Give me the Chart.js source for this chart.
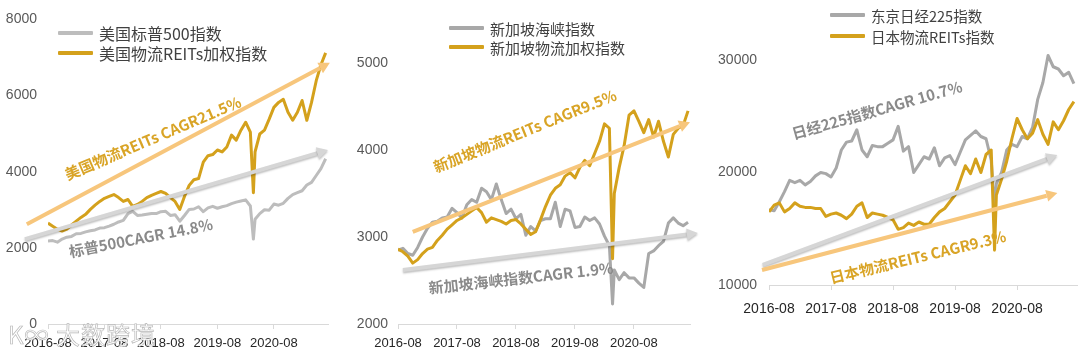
<!DOCTYPE html>
<html>
<head>
<meta charset="utf-8">
<script src="https://cdn.jsdelivr.net/npm/chart.js@4.4.1/dist/chart.umd.min.js"></script>
<style>
    body { margin: 0; background: #fff; width: 1080px; height: 355px; position: relative; overflow: hidden; font-family: 'Noto Sans CJK SC', sans-serif; }
    .panel { position: absolute; top: 0; height: 355px; }
    .legend-row { position: absolute; white-space: nowrap; display: flex; align-items: center; height: 20px; color: #404040; }
    .legend-row i { display: inline-block; width: 35px; height: 4px; margin-right: 6px; border-radius: 1px; }
    .watermark { position: absolute; left: 8px; top: 316px; font-size: 24px; color: #fff; -webkit-text-stroke: 0.7px #b8b8b8; letter-spacing: 1px; z-index: 2; }
</style>
</head>
<body>
<div class="watermark">K∞ 大数跨境</div>
<script>
// monthly points, plus the March 2020 low
const dates = [
    '2016-08', '2016-09', '2016-10', '2016-11', '2016-12',
    '2017-01', '2017-02', '2017-03', '2017-04', '2017-05', '2017-06', '2017-07', '2017-08', '2017-09', '2017-10', '2017-11', '2017-12',
    '2018-01', '2018-02', '2018-03', '2018-04', '2018-05', '2018-06', '2018-07', '2018-08', '2018-09', '2018-10', '2018-11', '2018-12',
    '2019-01', '2019-02', '2019-03', '2019-04', '2019-05', '2019-06', '2019-07', '2019-08', '2019-09', '2019-10', '2019-11', '2019-12',
    '2020-01', '2020-02', '2020-03', '2020-03-21', '2020-04', '2020-05', '2020-06', '2020-07', '2020-08', '2020-09', '2020-10', '2020-11', '2020-12',
    '2021-01', '2021-02', '2021-03', '2021-04', '2021-05', '2021-06', '2021-07'
];
const xTickLabels = ['2016-08', '2017-08', '2018-08', '2019-08', '2020-08'];

const usSp500 = [
    2180, 2190, 2150, 2230, 2280,
    2300, 2370, 2380, 2420, 2450, 2470, 2520, 2530, 2570, 2620, 2680, 2720,
    2900, 2960, 2850, 2860, 2880, 2900, 2900, 2950, 2960, 2850, 2870, 2700,
    2850, 3010, 3020, 3080, 2950, 3050, 3090, 3040, 3080, 3110, 3160, 3200,
    3230, 3260, 3100, 2230, 2750, 2900, 3000, 2990, 3150, 3120, 3170, 3300, 3400,
    3450, 3500, 3650, 3720, 3900, 4080, 4340
];
const usLogistics = [
    2650, 2570, 2490, 2440, 2490,
    2600, 2700, 2800, 2880, 3010, 3120, 3220, 3300, 3350, 3400, 3320, 3220,
    3270, 3090, 3140, 3220, 3320, 3380, 3430, 3480, 3430, 3320, 3220, 3010,
    3350, 3640, 3790, 3820, 4250, 4420, 4450, 4570, 4520, 4650, 4960, 4830,
    5090, 5300, 5040, 3450, 4520, 4990, 5090, 5380, 5690, 5820, 5900, 5560, 5350,
    5560, 5870, 5350, 5820, 6390, 6810, 7120
];
const sgSti = [
    2850, 2870, 2810, 2790, 2880,
    3000, 3100, 3170, 3180, 3220, 3230, 3330, 3280, 3220, 3370, 3430, 3400,
    3560, 3520, 3430, 3610, 3430, 3270, 3320, 3210, 3260, 3020, 3120, 3070,
    3190, 3210, 3210, 3400, 3120, 3320, 3300, 3110, 3120, 3230, 3190, 3220,
    3150, 3010, 2900, 2230, 2620, 2510, 2590, 2530, 2530, 2470, 2420, 2810, 2840,
    2900, 2950, 3160, 3220, 3160, 3130, 3170
];
const sgLogistics = [
    2860, 2830, 2780, 2700, 2740,
    2810, 2860, 2880, 2960, 3020, 3090, 3140, 3190, 3220, 3260, 3300, 3340,
    3280, 3170, 3220, 3200, 3180, 3150, 3190, 3200, 3150, 3090, 3030, 3060,
    3200, 3350, 3480, 3560, 3600, 3700, 3740, 3680, 3800, 3880, 3820, 3960,
    4100, 4300, 4250, 2750, 3500, 3800, 4050, 4400, 4450, 4330, 4200, 4350, 4150,
    4330, 4100, 3920, 4180, 4250, 4280, 4450
];
const jpNikkei = [
    16700, 16600, 17400, 18300, 19300,
    19100, 19300, 18900, 19200, 19700, 20000, 19900, 19600, 20400, 22000, 22700, 22800,
    23800, 22000, 21400, 22400, 22300, 22300, 22600, 22900, 24100, 21900, 22300, 20000,
    20700, 21400, 21200, 22200, 20600, 21300, 21500, 20700, 21800, 22900, 23300, 23700,
    23200, 23000, 21100, 16800, 19000, 20000, 22000, 22500, 22300, 23200, 23000, 24000, 26500,
    28000, 30400, 29400, 29200, 28600, 28900, 27900
];
const jpLogistics = [
    16500, 17100, 17300, 16500, 16800,
    17300, 17000, 16900, 16900, 16800, 16800, 16100, 16300, 16400, 16200, 15900, 16300,
    17000, 17300, 16000, 16400, 16300, 16200, 16000, 15800, 14950, 15100, 15500, 15300,
    15600, 15400, 15400, 16000, 16500, 16800, 17400, 18000, 19300, 20600, 19900, 21200,
    20000, 21600, 22000, 13100, 18000, 19400, 21000, 23000, 24800, 23800, 23000, 23500, 24700,
    23400, 22500, 24500, 23800, 24600, 25600, 26300
];

const GOLD = '#D4A11C';
const GOLD_ARROW = '#F7C67C';
const GOLD_TEXT = '#D9A426';
const GRAY_ARROW = '#D6D6D6';
const GRAY_TEXT = '#8A8A8A';

function monthIndex(d) {
    const p = d.split('-').map(Number);
    return (p[0] - 2016) * 12 + (p[1] - 8) + (p[2] ? (p[2] - 1) / 31 : 0);
}

function toPoints(values) {
    return values.map((v, i) => ({ x: monthIndex(dates[i]), y: v }));
}

function drawArrow(ctx, x1, y1, x2, y2, color, width, shadow) {
    const ang = Math.atan2(y2 - y1, x2 - x1);
    const head = 11, hw = 6;
    const bx = x2 - head * Math.cos(ang), by = y2 - head * Math.sin(ang);
    ctx.save();
    if (shadow) {
        ctx.shadowColor = 'rgba(0,0,0,0.25)';
        ctx.shadowOffsetY = 1.5;
        ctx.shadowBlur = 2;
    }
    ctx.strokeStyle = color;
    ctx.fillStyle = color;
    ctx.lineWidth = width;
    ctx.beginPath();
    ctx.moveTo(x1, y1);
    ctx.lineTo(bx, by);
    ctx.stroke();
    ctx.beginPath();
    ctx.moveTo(x2, y2);
    ctx.lineTo(bx + hw * Math.sin(ang), by - hw * Math.cos(ang));
    ctx.lineTo(bx - hw * Math.sin(ang), by + hw * Math.cos(ang));
    ctx.closePath();
    ctx.fill();
    ctx.restore();
}

const overlayPlugin = {
    id: 'overlay',
    afterDatasetsDraw(chart, args, opts) {
        const ctx = chart.ctx;
        const xs = chart.scales.x, ys = chart.scales.y;
        (opts.arrows || []).forEach(a => {
            drawArrow(ctx, xs.getPixelForValue(a.from[0]), ys.getPixelForValue(a.from[1]),
                xs.getPixelForValue(a.to[0]), ys.getPixelForValue(a.to[1]), a.color, 4, a.shadow);
        });
        (opts.notes || []).forEach(n => {
            ctx.save();
            ctx.translate(xs.getPixelForValue(n.at[0]), ys.getPixelForValue(n.at[1]));
            ctx.rotate(n.angle * Math.PI / 180);
            ctx.font = 'bold 15px "Noto Sans CJK SC"';
            ctx.fillStyle = n.color;
            ctx.textAlign = 'center';
            ctx.textBaseline = 'middle';
            ctx.fillText(n.text, 0, 0);
            ctx.restore();
        });
    }
};

function makePanel(cfg) {
    const div = document.createElement('div');
    div.className = 'panel';
    div.style.left = cfg.left + 'px';
    div.style.width = cfg.width + 'px';
    const canvas = document.createElement('canvas');
    div.appendChild(canvas);
    document.body.appendChild(div);

    cfg.legend.forEach((item, i) => {
        const row = document.createElement('div');
        row.className = 'legend-row';
        row.style.left = cfg.legendX + 'px';
        row.style.top = (cfg.legendY[i] - 10) + 'px';
        row.style.fontSize = cfg.legendFont + 'px';
        row.innerHTML = `<i style="background:${item.color}"></i><span>${item.name}</span>`;
        div.appendChild(row);
    });

    new Chart(canvas, {
        type: 'line',
        data: {
            datasets: [
                { data: toPoints(cfg.gold), borderColor: GOLD, borderWidth: 3 },
                { data: toPoints(cfg.gray), borderColor: cfg.grayColor, borderWidth: 3 }
            ]
        },
        options: {
            responsive: true,
            maintainAspectRatio: false,
            animation: false,
            layout: { padding: { top: cfg.area.top, right: cfg.width - cfg.area.right, left: 0, bottom: 0 } },
            elements: { point: { radius: 0 }, line: { tension: 0, borderJoinStyle: 'round' } },
            plugins: {
                legend: { display: false },
                tooltip: { enabled: false },
                overlay: { arrows: cfg.arrows, notes: cfg.notes }
            },
            scales: {
                x: {
                    type: 'linear',
                    min: 0,
                    max: cfg.xMax,
                    afterBuildTicks: s => { s.ticks = [0, 12, 24, 36, 48].map(v => ({ value: v })); },
                    afterFit: s => { s.height = 355 - cfg.area.bottom; },
                    ticks: {
                        callback: v => xTickLabels[v / 12],
                        color: '#262626',
                        font: { family: 'Liberation Sans', size: cfg.xFont },
                        padding: cfg.xPad,
                        maxRotation: 0,
                        autoSkip: false
                    },
                    grid: { drawOnChartArea: false, drawTicks: true, tickLength: 5, color: '#D9D9D9' },
                    border: { display: true, color: '#D9D9D9' }
                },
                y: {
                    min: cfg.yMin,
                    max: cfg.yMax,
                    afterBuildTicks: s => { s.ticks = cfg.yTicks.map(v => ({ value: v })); },
                    afterFit: s => { s.width = cfg.area.left; },
                    ticks: {
                        callback: v => String(v),
                        color: '#595959',
                        font: { family: 'Liberation Sans', size: 14 },
                        padding: cfg.yPad
                    },
                    grid: { display: false, drawTicks: false },
                    border: { display: false }
                }
            }
        },
        plugins: [overlayPlugin]
    });
}

document.addEventListener('DOMContentLoaded', function() {
    makePanel({
        left: 0, width: 345,
        area: { left: 48, right: 328, top: 16, bottom: 324 },
        xMax: 59.5, yMin: 0, yMax: 8000, yTicks: [0, 2000, 4000, 6000, 8000],
        xFont: 13, xPad: 7, yPad: 11,
        gold: usLogistics, gray: usSp500, grayColor: '#BDBDBD',
        legendX: 58, legendY: [33, 53], legendFont: 16,
        legend: [
            { name: '美国标普500指数', color: '#BDBDBD' },
            { name: '美国物流REITs加权指数', color: GOLD }
        ],
        arrows: [
            { from: [-4.5, 2620], to: [59.9, 6860], color: GOLD_ARROW },
            { from: [-4.9, 2230], to: [59.5, 4570], color: GRAY_ARROW, shadow: true }
        ],
        notes: [
            { text: '美国物流REITs CAGR21.5%', at: [22.3, 4883], angle: -23, color: GOLD_TEXT },
            { text: '标普500CAGR 14.8%', at: [19.75, 2260], angle: -11, color: GRAY_TEXT }
        ]
    });
    makePanel({
        left: 355, width: 345,
        area: { left: 43, right: 335, top: 63, bottom: 324 },
        xMax: 59.4, yMin: 2000, yMax: 5000, yTicks: [2000, 3000, 4000, 5000],
        xFont: 13, xPad: 7, yPad: 10,
        gold: sgLogistics, gray: sgSti, grayColor: '#A8A8A8',
        legendX: 94, legendY: [28, 47], legendFont: 15,
        legend: [
            { name: '新加坡海峡指数', color: '#A8A8A8' },
            { name: '新加坡物流加权指数', color: GOLD }
        ],
        arrows: [
            { from: [3.0, 3060], to: [59.4, 4320], color: GOLD_ARROW },
            { from: [1.0, 2620], to: [61, 3046], color: GRAY_ARROW, shadow: true }
        ],
        notes: [
            { text: '新加坡物流REITs CAGR9.5%', at: [25.8, 4218], angle: -22, color: GOLD_TEXT },
            { text: '新加坡海峡指数CAGR 1.9%', at: [25.0, 2529], angle: -6.3, color: GRAY_TEXT }
        ]
    });
    makePanel({
        left: 710, width: 370,
        area: { left: 59, right: 367, top: 37.5, bottom: 285 },
        xMax: 59.6, yMin: 10000, yMax: 32000, yTicks: [10000, 20000, 30000],
        xFont: 14, xPad: 11, yPad: 12,
        gold: jpLogistics, gray: jpNikkei, grayColor: '#A8A8A8',
        legendX: 120, legendY: [15, 36], legendFont: 14.5,
        legend: [
            { name: '东京日经225指数', color: '#A8A8A8' },
            { name: '日本物流REITs指数', color: GOLD }
        ],
        arrows: [
            { from: [-1.2, 11780], to: [55.8, 21560], color: GRAY_ARROW, shadow: true },
            { from: [-1.35, 11330], to: [55.8, 18180], color: GOLD_ARROW }
        ],
        notes: [
            { text: '日经225指数CAGR 10.7%', at: [20.9, 25556], angle: -15.8, color: GRAY_TEXT },
            { text: '日本物流REITs CAGR9.3%', at: [28.8, 12489], angle: -13.6, color: GOLD_TEXT }
        ]
    });
});
</script>
</body>
</html>
